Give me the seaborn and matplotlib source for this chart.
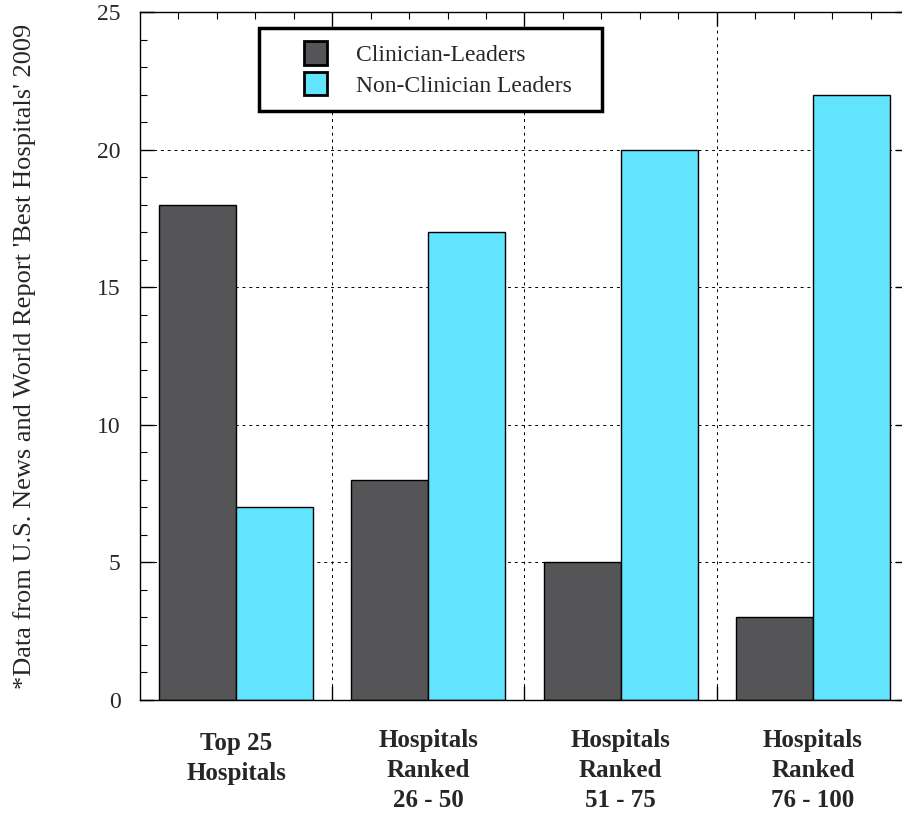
import matplotlib
matplotlib.use('Agg')
import matplotlib.pyplot as plt
import matplotlib.patches as mpatches
from matplotlib.legend_handler import HandlerPatch
from matplotlib.ticker import MultipleLocator, FixedLocator
import seaborn as sns
import pandas as pd
import numpy as np

groups = ['Top 25\nHospitals', 'Hospitals\nRanked\n26 - 50',
          'Hospitals\nRanked\n51 - 75', 'Hospitals\nRanked\n76 - 100']
series = ['Clinician-Leaders', 'Non-Clinician Leaders']
clinician = [18, 8, 5, 3]
non_clinician = [7, 17, 20, 22]
colors = ['#555557', '#62e3fe']
ylabel = "*Data from U.S. News and World Report 'Best Hospitals' 2009"

df = pd.DataFrame({
    'group': groups * 2,
    'leader': [series[0]] * 4 + [series[1]] * 4,
    'count': clinician + non_clinician,
})

sns.set_style('white')
plt.rcParams['font.family'] = ['Liberation Serif', 'DejaVu Serif']

W, H = 903, 815
fig = plt.figure(figsize=(W / 100, H / 100), dpi=100)
ax = fig.add_axes([140 / W, 1 - 700 / H, (909 - 140) / W, 688 / H])

sns.barplot(data=df, x='group', y='count', hue='leader', hue_order=series,
            palette=colors, width=0.8, edgecolor='black', linewidth=1.0,
            saturation=1, ax=ax, legend=False, zorder=2)

ax.set_xlim(-0.5, 3.5)
ax.set_ylim(0, 25)

# group borders as major x ticks (with grid), fine ticks every 0.2
ax.xaxis.set_major_locator(FixedLocator([0.5, 1.5, 2.5]))
ax.xaxis.set_minor_locator(FixedLocator(np.arange(-0.3, 3.5, 0.2)))
ax.set_xticklabels([])
ax.yaxis.set_major_locator(MultipleLocator(5))
ax.yaxis.set_minor_locator(MultipleLocator(1))

ax.tick_params(which='both', direction='in', top=True, right=True,
               bottom=True, left=True, color='black')
ax.tick_params(which='major', length=10, width=1.0, labelsize=17, pad=14)
ax.tick_params(which='minor', length=5, width=0.8)

ax.grid(True, which='major', color='black', linestyle=(0, (3, 4)),
        linewidth=0.7, zorder=0)
ax.set_axisbelow(True)
for sp in ax.spines.values():
    sp.set_color('black')
    sp.set_linewidth(1.0)

ax.set_xlabel('')
ax.set_ylabel(ylabel, fontsize=19, labelpad=44)

tr = matplotlib.transforms.blended_transform_factory(ax.transData, ax.transAxes)
for i, g in enumerate(groups):
    yy = -0.047 if i == 0 else -0.042
    ax.text(i, yy, g, transform=tr, ha='center', va='top', fontsize=18,
            fontweight='bold', multialignment='center', linespacing=1.38)


def square(legend, orig_handle, xdescent, ydescent, width, height, fontsize):
    s = 17
    return mpatches.Rectangle((width - s - xdescent, -ydescent + (height - s) / 2),
                              s, s)


handles = [mpatches.Patch(facecolor=c, edgecolor='black', linewidth=2) for c in colors]
leg = ax.legend(handles, series, loc='upper left',
                bbox_to_anchor=(259 / W, 1 - 110 / H, 343 / W, 82 / H),
                bbox_transform=fig.transFigure, mode='expand', borderaxespad=0,
                fontsize=17, frameon=True, fancybox=False, framealpha=1,
                edgecolor='black', borderpad=0.6, labelspacing=0.3,
                handlelength=2.3, handleheight=1.0, handletextpad=1.2,
                handler_map={mpatches.Patch: HandlerPatch(patch_func=square)})
leg.get_frame().set_linewidth(2.5)
leg.set_zorder(5)

fig.savefig('out.png', dpi=100)
